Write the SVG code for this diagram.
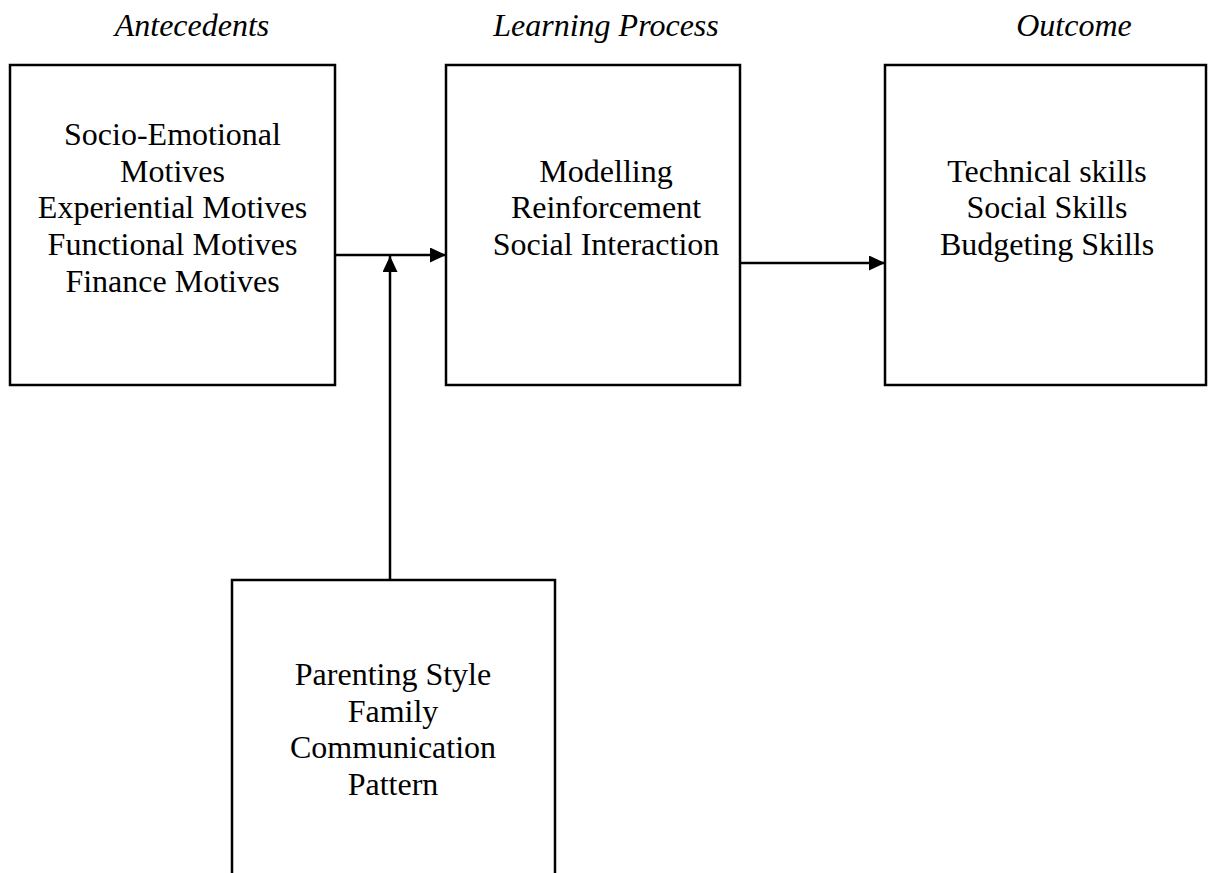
<svg xmlns="http://www.w3.org/2000/svg" width="1208" height="873" viewBox="0 0 1208 873">
  <style>
    .box { fill: #ffffff; stroke: #000000; stroke-width: 2.5; }
    .lbl { font-family: "Liberation Serif", "Times New Roman", serif; font-size: 32px; fill: #000000; text-anchor: middle; }
    .hdr { font-family: "Liberation Serif", "Times New Roman", serif; font-size: 32px; font-style: italic; fill: #000000; text-anchor: middle; }
    .conn { stroke: #000000; stroke-width: 2.5; fill: none; }
  </style>
  <defs>
    <marker id="arrow" viewBox="0 0 10 10" refX="10" refY="5" markerWidth="16" markerHeight="15" markerUnits="userSpaceOnUse" orient="auto" preserveAspectRatio="none">
      <path d="M0,0 L10,5 L0,10 Z" fill="#000000"/>
    </marker>
  </defs>
  <rect width="1208" height="873" fill="#ffffff"/>

  <!-- column headings -->
  <g id="headings">
    <text class="hdr" x="192" y="36">Antecedents</text>
    <text class="hdr" x="606" y="36">Learning Process</text>
    <text class="hdr" x="1074" y="36">Outcome</text>
  </g>

  <!-- connectors -->
  <g id="connectors">
    <line class="conn" x1="335" y1="255" x2="446" y2="255" marker-end="url(#arrow)"/>
    <line class="conn" x1="390" y1="580" x2="390" y2="256" marker-end="url(#arrow)"/>
    <line class="conn" x1="740" y1="263" x2="885" y2="263" marker-end="url(#arrow)"/>
  </g>

  <g id="antecedents">
    <rect class="box" x="10" y="65" width="325" height="320"/>
    <text class="lbl" x="172.5" y="145">Socio-Emotional</text>
    <text class="lbl" x="172.5" y="182">Motives</text>
    <text class="lbl" x="172.5" y="218">Experiential Motives</text>
    <text class="lbl" x="172.5" y="255">Functional Motives</text>
    <text class="lbl" x="172.5" y="292">Finance Motives</text>
  </g>

  <g id="learning-process">
    <rect class="box" x="446" y="65" width="294" height="320"/>
    <text class="lbl" x="606" y="182">Modelling</text>
    <text class="lbl" x="606" y="218">Reinforcement</text>
    <text class="lbl" x="606" y="255">Social Interaction</text>
  </g>

  <g id="outcome">
    <rect class="box" x="885" y="65" width="321" height="320"/>
    <text class="lbl" x="1047" y="182">Technical skills</text>
    <text class="lbl" x="1047" y="218">Social Skills</text>
    <text class="lbl" x="1047" y="255">Budgeting Skills</text>
  </g>

  <g id="family">
    <rect class="box" x="232" y="580" width="323" height="310"/>
    <text class="lbl" x="393" y="685">Parenting Style</text>
    <text class="lbl" x="393" y="722">Family</text>
    <text class="lbl" x="393" y="758">Communication</text>
    <text class="lbl" x="393" y="795">Pattern</text>
  </g>
</svg>
